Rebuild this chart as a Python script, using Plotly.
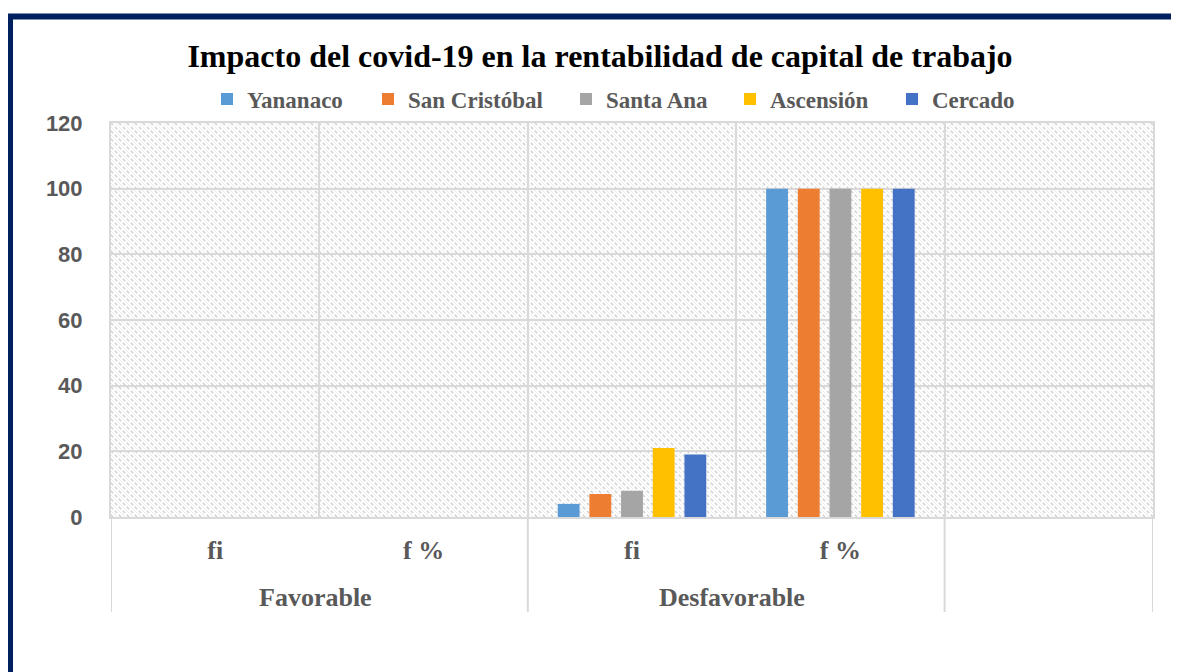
import base64
import plotly.graph_objects as go

# ---- data ----
positions = [0, 1, 2, 3, 4]
subcategories = ["fi", "f %", "fi", "f %", ""]
groups = ["Favorable", "Desfavorable"]
group_centers = [0.5, 2.5]
group_bounds = [-0.5, 1.5, 3.5, 4.5]
inner_bounds = [0.5, 1.5, 2.5, 3.5]

series_names = ["Yananaco", "San Cristóbal", "Santa Ana", "Ascensión", "Cercado"]
yananaco = [0, 0, 4, 100, None]
san_cristobal = [0, 0, 7, 100, None]
santa_ana = [0, 0, 8, 100, None]
ascension = [0, 0, 21, 100, None]
cercado = [0, 0, 19, 100, None]
series_values = [yananaco, san_cristobal, santa_ana, ascension, cercado]
colors = ["#5B9BD5", "#ED7D31", "#A5A5A5", "#FFC000", "#4472C4"]
legend_widths = [116, 153, 119, 117, 110]

OFF = 8  # page body offset
W, H = 1179, 672
PW, PH = 1042, 394
L = 111 - OFF
T = 123 - OFF
R = W - L - PW
B = H - T - PH
Y0 = T + PH  # figure y of zero line


def py(screen_y):
    return (Y0 - (screen_y - OFF)) / PH


fig = go.Figure()
for name, vals, col, lw in zip(series_names, series_values, colors, legend_widths):
    fig.add_trace(go.Bar(x=positions, y=vals, name=name, marker_color=col,
                         marker_line_width=0, legendwidth=lw))

# hatched plot background
svg = (f'<svg xmlns="http://www.w3.org/2000/svg" width="{PW}" height="{PH}">'
       '<defs><pattern id="p" width="8" height="8" patternUnits="userSpaceOnUse">'
       '<rect width="8" height="8" fill="white"/>'
       '<path d="M0,0 L8,8" stroke="#d6d6d6" stroke-width="1.7" stroke-dasharray="3,2.6"/>'
       '<path d="M-1,7 L1,9 M7,-1 L9,1" stroke="#d6d6d6" stroke-width="1.7"/>'
       '<path d="M0,4 L4,8 M4,0 L8,4" stroke="#ebebeb" stroke-width="1"/>'
       '</pattern></defs>'
       f'<rect width="{PW}" height="{PH}" fill="url(#p)"/></svg>')
src = "data:image/svg+xml;base64," + base64.b64encode(svg.encode()).decode()
fig.add_layout_image(dict(source=src, xref="paper", yref="paper", x=0, y=1,
                          sizex=1, sizey=1, sizing="stretch", layer="below",
                          xanchor="left", yanchor="top"))

grid = "#d9d9d9"
label_font = dict(family="Liberation Serif, Times New Roman, serif", size=26,
                  color="#595959", weight="bold")

# group labels
for g, c in zip(groups, group_centers):
    fig.add_annotation(x=c, y=py(597), xref="x", yref="paper", text=g,
                       showarrow=False, font=label_font, yanchor="middle", xshift=-4)

# dividers below axis
for xb in group_bounds:
    fig.add_shape(type="line", xref="x", yref="paper", x0=xb, x1=xb,
                  y0=0, y1=py(612), line=dict(color=grid, width=2))

# chart border
bx0 = (10 - OFF - L) / PW
bx1 = (1300 - L) / PW
fig.add_shape(type="rect", xref="paper", yref="paper", x0=bx0, x1=bx1,
              y0=py(900), y1=py(16.5),
              line=dict(color="#002060", width=6), fillcolor="rgba(0,0,0,0)")

fig.update_layout(
    width=W, height=H, autosize=False,
    margin=dict(l=L, r=R, t=T, b=B),
    paper_bgcolor="white", plot_bgcolor="rgba(0,0,0,0)",
    barmode="group", bargap=0.24, bargroupgap=0.31,
    title=dict(text="Impacto del covid-19 en la rentabilidad de capital de trabajo",
               x=(600 - OFF) / W, xanchor="center", xref="container",
               y=1 - (56 - OFF) / H, yanchor="middle", yref="container",
               font=dict(family="Liberation Serif, Times New Roman, serif", size=32,
                         color="black", weight="bold")),
    legend=dict(orientation="h", x=0.5 - 5 / PW, xanchor="center", y=py(99),
                yanchor="middle",
                font=dict(family="Liberation Serif, Times New Roman, serif", size=23,
                          color="#595959", weight="bold"),
                bgcolor="rgba(0,0,0,0)"),
    xaxis=dict(range=[-0.5, 4.5], tickmode="array", tickvals=positions,
               ticktext=subcategories, showgrid=False, zeroline=False,
               showline=True, linecolor=grid, linewidth=2, mirror=True,
               ticks="", ticklabelstandoff=9, tickfont=label_font,
               minor=dict(tickvals=inner_bounds, showgrid=True, gridcolor=grid,
                          gridwidth=1.5, ticks="")),
    yaxis=dict(range=[0, 120], dtick=20, showgrid=True, gridcolor=grid, gridwidth=1.5,
               zeroline=False, showline=True, linecolor=grid, linewidth=2, mirror=True,
               ticks="", ticklabelstandoff=22,
               tickfont=dict(family="Liberation Sans, Arial, sans-serif", size=22,
                             color="#595959", weight="bold")),
)

fig.write_html("out.html")
